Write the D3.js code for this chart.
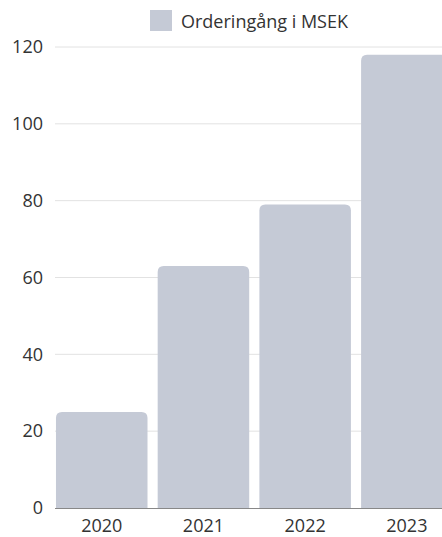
<!DOCTYPE html>
<html><head><meta charset="utf-8">
<script src="https://cdn.jsdelivr.net/npm/d3@7"></script>
<style>body{margin:0;background:#fff}svg{display:block}text{font-family:"Open Sans",sans-serif}</style>
</head><body>
<svg id="c" width="442" height="537"></svg>
<script>
const categories = ["2020","2021","2022","2023"];
const values = [25, 63, 79, 118];
const yTicks = [0,20,40,60,80,100,120];
const seriesName = "Orderingång i MSEK";

const svg = d3.select("#c");
const x = d3.scaleBand().domain(categories).range([45.8, 462.8]).padding(0.1);
const y = d3.scaleLinear().domain([0,120]).range([508, 47]);
const color = "#c5cad6";

// grid
svg.append("g").selectAll("line").data(yTicks.filter(d=>d>0)).join("line")
  .attr("x1",55).attr("x2",442).attr("y1",d=>y(d)).attr("y2",d=>y(d))
  .attr("stroke","#e2e2e2").attr("stroke-width",1);

// y labels
const ya = svg.append("g").attr("transform","translate(43,0)")
  .call(d3.axisLeft(y).tickValues(yTicks).tickSize(0).tickPadding(0));
ya.select(".domain").remove();
ya.selectAll("text").attr("font-size",18).attr("fill","#333").attr("font-family","Open Sans");

// bars with rounded top
const r = 6;
svg.append("g").selectAll("path").data(values).join("path")
  .attr("fill", color)
  .attr("d",(d,i)=>{
    const x0 = x(categories[i]), w = x.bandwidth(), y0 = y(d), yb = y(0);
    return `M${x0},${yb}V${y0+r}Q${x0},${y0} ${x0+r},${y0}H${x0+w-r}Q${x0+w},${y0} ${x0+w},${y0+r}V${yb}Z`;
  });

// baseline
svg.append("line").attr("x1",55).attr("x2",442).attr("y1",y(0)+0.5).attr("y2",y(0)+0.5)
  .attr("stroke","#888").attr("stroke-width",1);

// x labels
const xa = svg.append("g").attr("transform",`translate(0,${y(0)})`)
  .call(d3.axisBottom(x).tickSize(0).tickPadding(11));
xa.select(".domain").remove();
xa.selectAll("text").attr("font-size",18).attr("fill","#333").attr("font-family","Open Sans");

// legend
svg.append("rect").attr("x",150).attr("y",10).attr("width",22).attr("height",21).attr("fill",color);
svg.append("text").attr("x",181).attr("y",28).attr("font-size",18).attr("fill","#333").text(seriesName);
</script>
</body></html>
